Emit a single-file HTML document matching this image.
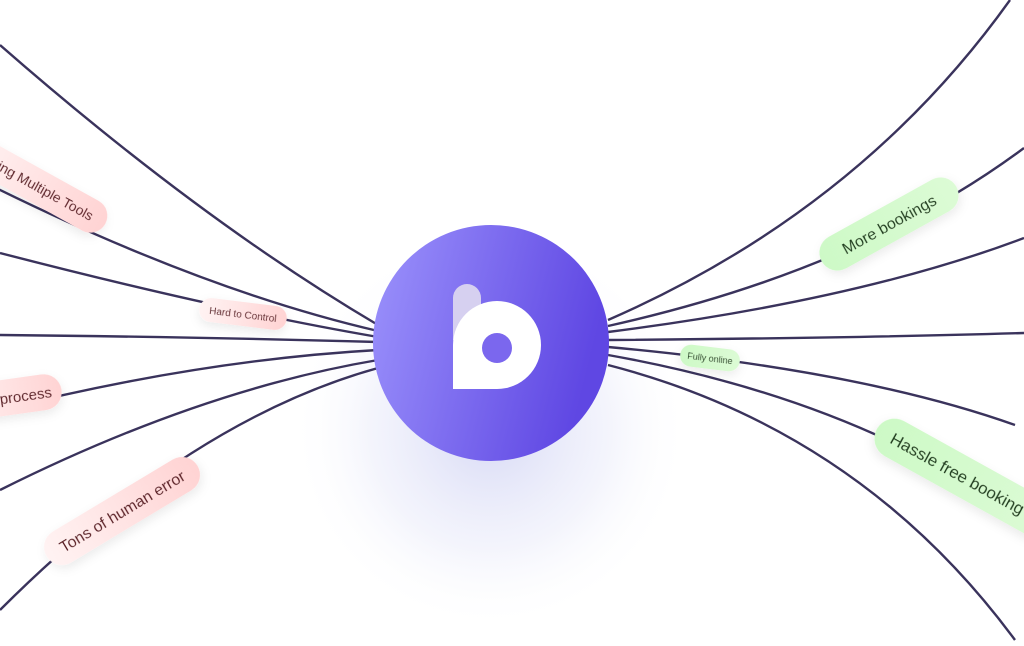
<!DOCTYPE html>
<html><head><meta charset="utf-8"><style>
html,body{margin:0;padding:0;background:#fff;width:1024px;height:646px;overflow:hidden}
svg{display:block}
text{font-family:"Liberation Sans",sans-serif}
</style></head><body>
<svg width="1024" height="646" viewBox="0 0 1024 646">
<defs>
<radialGradient id="glow" cx="490" cy="430" r="200" gradientUnits="userSpaceOnUse">
<stop offset="0" stop-color="#c9ccf2" stop-opacity="0.75"/>
<stop offset="0.6" stop-color="#e3e5f8" stop-opacity="0.4"/>
<stop offset="1" stop-color="#ffffff" stop-opacity="0"/>
</radialGradient>
<linearGradient id="circ" x1="0" y1="0" x2="1" y2="0.25">
<stop offset="0" stop-color="#9c93fc"/>
<stop offset="1" stop-color="#5f47e3"/>
</linearGradient>
<linearGradient id="red" x1="0" y1="0" x2="1" y2="0">
<stop offset="0" stop-color="#fff3f3"/>
<stop offset="1" stop-color="#ffd3d3"/>
</linearGradient>
<linearGradient id="green" x1="0" y1="0" x2="1" y2="0">
<stop offset="0" stop-color="#cdf9c6"/>
<stop offset="1" stop-color="#dcfbd5"/>
</linearGradient>
<filter id="sh" x="-30%" y="-50%" width="160%" height="200%"><feDropShadow dx="0" dy="4" stdDeviation="5" flood-color="#000" flood-opacity="0.08"/></filter>
</defs>
<circle cx="490" cy="430" r="200" fill="url(#glow)"/>
<g fill="none" stroke="#3a335c" stroke-width="2.4">
<path d="M0,45 Q200,220 378,325"/>
<path d="M-20,180 Q200,290 378,331"/>
<path d="M0,253 Q220,310 378,337"/>
<path d="M0,335 Q200,337 378,342"/>
<path d="M0,410 Q200,360 378,350"/>
<path d="M0,490 Q200,390 378,360"/>
<path d="M0,610 Q190,420 378,368"/>
<path d="M608,320 Q860,210 1010,0"/>
<path d="M608,326 Q860,270 1024,148"/>
<path d="M608,332 Q860,300 1024,238"/>
<path d="M608,340 Q860,338 1024,333"/>
<path d="M608,347 Q860,370 1015,425"/>
<path d="M608,355 Q860,400 1024,520"/>
<path d="M608,365 Q860,430 1015,640"/>
</g>
<circle cx="491" cy="343" r="118" fill="url(#circ)"/>
<g>
<path d="M453,340 V298 A14,14 0 0 1 481,298 V340 Z" fill="#d6d0f0"/>
<path d="M453,389 L497,389 A44,44 0 1 0 453,345 Z" fill="#fff"/>
<circle cx="497" cy="348" r="15" fill="#7b67ee"/>
</g>
<g transform="translate(44,190) rotate(29)" filter="url(#sh)">
<rect x="-90" y="-17" width="160" height="34" rx="17" fill="url(#red)"/>
<text x="-10" y="5" font-size="14" fill="#5a1b22" text-anchor="middle">naging Multiple Tools</text>
</g>
<g transform="translate(243,314) rotate(7)" filter="url(#sh)">
<rect x="-44" y="-12" width="88" height="24" rx="12" fill="url(#red)"/>
<text x="0" y="4" font-size="10" fill="#5a1b22" text-anchor="middle">Hard to Control</text>
</g>
<g transform="translate(10,397) rotate(-8)" filter="url(#sh)">
<rect x="-60" y="-18" width="112" height="36" rx="18" fill="url(#red)"/>
<text x="42" y="6" font-size="15" fill="#5a1b22" text-anchor="end">process</text>
</g>
<g transform="translate(122,511) rotate(-31)" filter="url(#sh)">
<rect x="-88" y="-18" width="176" height="36" rx="18" fill="url(#red)"/>
<text x="0" y="6" font-size="16" fill="#5a1b22" text-anchor="middle">Tons of human error</text>
</g>
<g transform="translate(889,224) rotate(-29)" filter="url(#sh)">
<rect x="-77" y="-18" width="154" height="36" rx="18" fill="url(#green)"/>
<text x="0" y="6" font-size="16" fill="#1f3a1a" text-anchor="middle">More bookings</text>
</g>
<g transform="translate(710,358) rotate(7)" filter="url(#sh)">
<rect x="-30" y="-11" width="60" height="22" rx="11" fill="url(#green)"/>
<text x="0" y="3.5" font-size="9" fill="#1f3a1a" text-anchor="middle">Fully online</text>
</g>
<g transform="translate(960,475) rotate(29)" filter="url(#sh)">
<rect x="-95" y="-20" width="200" height="40" rx="20" fill="url(#green)"/>
<text x="-78" y="6" font-size="17" fill="#1f3a1a">Hassle free booking</text>
</g>
</svg>
</body></html>
